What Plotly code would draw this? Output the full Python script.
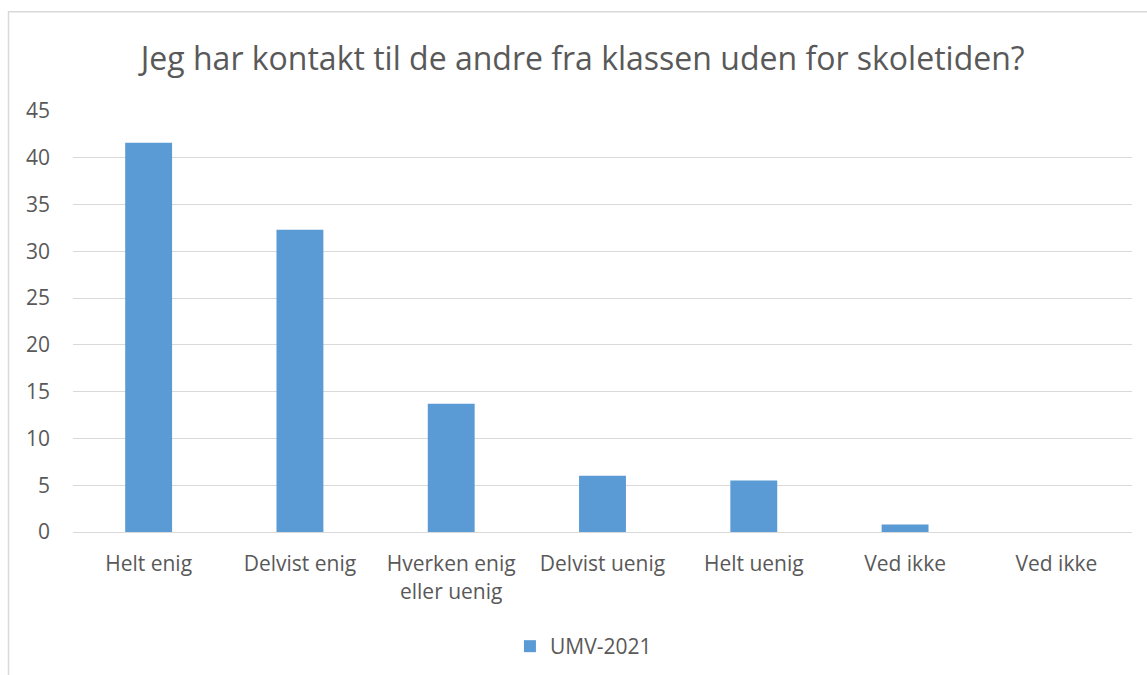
import plotly.graph_objects as go

categories = ["Helt enig", "Delvist enig", "Hverken enig<br>eller uenig",
              "Delvist uenig", "Helt uenig", "Ved ikke", "Ved ikke"]
values = [41.6, 32.3, 13.7, 6.0, 5.5, 0.8, 0.0]
series_name = "UMV-2021"
title_text = "Jeg har kontakt til de andre fra klassen uden for skoletiden?"

positions = list(range(len(categories)))

text_color = "#595959"
grid_color = "#D9D9D9"
font_family = "Open Sans"

bar = go.Bar(
    x=positions,
    y=values,
    name=series_name,
    width=0.31,
    marker=dict(color="#5B9BD5", line=dict(width=0)),
    showlegend=True,
)

layout = go.Layout(
    width=1147,
    height=675,
    paper_bgcolor="white",
    plot_bgcolor="white",
    font=dict(family=font_family, color=text_color, size=21),
    margin=dict(l=73, r=15, t=111, b=143, autoexpand=False),
    title=dict(
        text=title_text,
        x=0.508,
        xanchor="center",
        y=0.913,
        yanchor="middle",
        font=dict(family=font_family, size=32, color=text_color),
    ),
    xaxis=dict(
        tickvals=positions,
        ticktext=categories,
        range=[-0.5, len(categories) - 0.5],
        showgrid=False,
        zeroline=False,
        showline=True,
        linecolor=grid_color,
        linewidth=1,
        ticks="",
        ticklabelstandoff=13,
        tickfont=dict(size=21, color=text_color),
    ),
    yaxis=dict(
        range=[0, 45],
        dtick=5,
        showgrid=True,
        gridcolor=grid_color,
        gridwidth=1,
        zeroline=False,
        showline=False,
        ticks="",
        ticklabelstandoff=22,
        tickfont=dict(size=21, color=text_color),
    ),
    legend=dict(
        orientation="h",
        x=0.482,
        xanchor="center",
        y=-0.272,
        yanchor="middle",
        font=dict(size=21, color=text_color),
        itemwidth=30,
    ),
    shapes=[
        dict(
            type="path",
            xref="paper",
            yref="paper",
            path="M -0.0609,-0.5 L -0.0609,1.2356 L 1.1,1.2356",
            line=dict(color=grid_color, width=1.5),
        )
    ],
)

fig = go.Figure(data=[bar], layout=layout)
fig.write_html("out.html", config={"displayModeBar": False},
               post_script="document.body.style.margin='0';")
